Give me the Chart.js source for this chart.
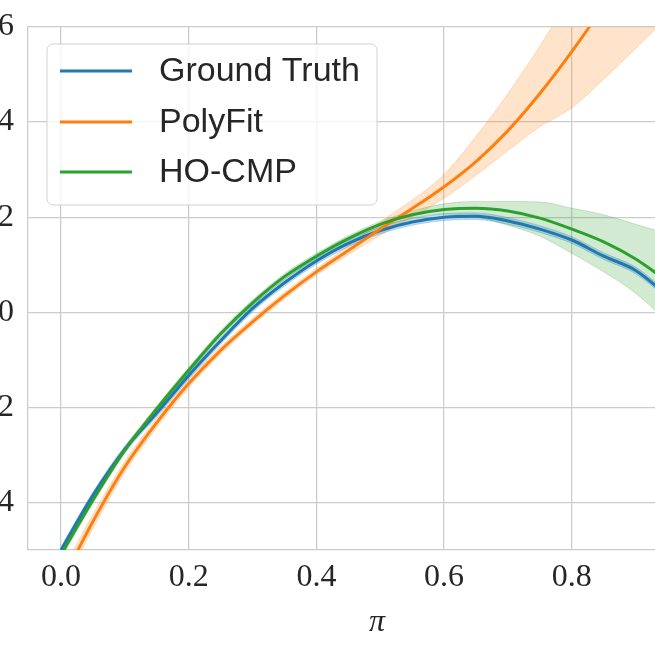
<!DOCTYPE html>
<html>
<head>
<meta charset="utf-8">
<script src="https://cdn.jsdelivr.net/npm/chart.js@4/dist/chart.umd.min.js"></script>
<style>
  html, body { margin: 0; padding: 0; background: #fff; }
  #wrap { position: relative; width: 655px; height: 655px; overflow: hidden; }
  #chart { position: absolute; left: -40px; top: 0; }
</style>
</head>
<body>
<div id="wrap"><canvas id="chart" width="800" height="655"></canvas></div>
<script>
const xs = [0, 0.05, 0.1, 0.15, 0.2, 0.25, 0.3, 0.35, 0.4, 0.45, 0.5, 0.55, 0.6, 0.65, 0.7, 0.75, 0.8, 0.85, 0.9, 0.95];

const gtMean = [-0.50, -0.385, -0.288, -0.212, -0.133, -0.060, 0.008, 0.062, 0.108, 0.145, 0.172, 0.190, 0.200, 0.202, 0.192, 0.175, 0.152, 0.118, 0.088, 0.035];
const gtLow  = [-0.507, -0.392, -0.295, -0.219, -0.140, -0.067, 0.001, 0.055, 0.101, 0.138, 0.165, 0.183, 0.193, 0.195, 0.185, 0.168, 0.145, 0.111, 0.081, 0.028];
const gtHigh = [-0.493, -0.378, -0.281, -0.205, -0.126, -0.053, 0.015, 0.069, 0.115, 0.152, 0.179, 0.197, 0.207, 0.209, 0.199, 0.182, 0.159, 0.125, 0.095, 0.042];

const polyMean = [-0.57, -0.44, -0.325, -0.232, -0.150, -0.080, -0.020, 0.035, 0.085, 0.130, 0.175, 0.218, 0.264, 0.317, 0.382, 0.460, 0.548, 0.645, 0.750, 0.865];
const polyLow  = [-0.59, -0.455, -0.337, -0.242, -0.159, -0.088, -0.027, 0.028, 0.078, 0.121, 0.162, 0.200, 0.240, 0.288, 0.340, 0.390, 0.430, 0.490, 0.555, 0.620];
const polyHigh = [-0.55, -0.425, -0.313, -0.222, -0.141, -0.072, -0.013, 0.042, 0.092, 0.140, 0.190, 0.236, 0.290, 0.370, 0.460, 0.560, 0.670, 0.790, 0.910, 1.030];

const hoMean = [-0.51, -0.395, -0.290, -0.203, -0.122, -0.045, 0.020, 0.075, 0.118, 0.155, 0.185, 0.205, 0.216, 0.219, 0.213, 0.198, 0.175, 0.148, 0.112, 0.065];
const hoLow  = [-0.518, -0.402, -0.296, -0.209, -0.128, -0.051, 0.014, 0.069, 0.112, 0.149, 0.179, 0.198, 0.207, 0.200, 0.183, 0.160, 0.124, 0.085, 0.040, -0.020];
const hoHigh = [-0.502, -0.388, -0.284, -0.197, -0.116, -0.039, 0.026, 0.081, 0.124, 0.161, 0.191, 0.213, 0.228, 0.233, 0.233, 0.232, 0.219, 0.205, 0.185, 0.165];

const labels = ["Ground Truth", "PolyFit", "HO-CMP"];
const colors = ["#1f77b4", "#ff7f0e", "#2ca02c"];
const bandColors = ["rgba(31,119,180,0.25)", "rgba(255,127,14,0.22)", "rgba(44,160,44,0.22)"];

const xTicks = [0, 0.2, 0.4, 0.6, 0.8, 1.0];
const yTicks = [-0.4, -0.2, 0, 0.2, 0.4, 0.6];

function pts(arr) {
  return xs.map((x, i) => ({ x: x, y: arr[i] }));
}

const means = [gtMean, polyMean, hoMean];
const lows = [gtLow, polyLow, hoLow];
const highs = [gtHigh, polyHigh, hoHigh];

let datasets = [];
for (let k = 0; k < 3; k++) {
  // band: lower edge then upper edge filled down to it
  datasets.push({
    data: pts(lows[k]), borderColor: bandColors[k], borderWidth: 1,
    pointRadius: 0, fill: false, order: 10 + k, cubicInterpolationMode: "monotone"
  });
  datasets.push({
    data: pts(highs[k]), borderColor: bandColors[k], borderWidth: 1,
    backgroundColor: bandColors[k], pointRadius: 0, fill: "-1", order: 10 + k,
    cubicInterpolationMode: "monotone"
  });
}
for (let k = 0; k < 3; k++) {
  datasets.push({
    label: labels[k], data: pts(means[k]), borderColor: colors[k], borderWidth: 3,
    pointRadius: 0, fill: false, order: 5 - k, cubicInterpolationMode: "monotone"
  });
}

// legend drawn inside the plot, like matplotlib's upper-left box
const boxLegend = {
  id: "boxLegend",
  afterDraw(chart) {
    const ctx = chart.ctx;
    const ox = 40;
    ctx.save();
    ctx.beginPath();
    ctx.roundRect(47 + ox, 44, 330, 161, 6);
    ctx.fillStyle = "rgba(255,255,255,0.8)";
    ctx.fill();
    ctx.strokeStyle = "#d0d0d0";
    ctx.lineWidth = 1;
    ctx.stroke();
    const rows = [71, 122, 172];
    ctx.font = "34px 'Liberation Sans', Arial, sans-serif";
    ctx.textBaseline = "middle";
    for (let k = 0; k < 3; k++) {
      ctx.beginPath();
      ctx.moveTo(60 + ox, rows[k]);
      ctx.lineTo(132 + ox, rows[k]);
      ctx.strokeStyle = colors[k];
      ctx.lineWidth = 3;
      ctx.stroke();
      ctx.fillStyle = "#262626";
      ctx.fillText(labels[k], 159 + ox, rows[k] + 1);
    }
    ctx.restore();
  }
};

new Chart(document.getElementById("chart"), {
  type: "line",
  data: { datasets: datasets },
  plugins: [boxLegend],
  options: {
    responsive: false,
    animation: false,
    layout: { padding: { top: 27, right: 34, left: 0, bottom: 0 } },
    plugins: { legend: { display: false }, tooltip: { enabled: false } },
    scales: {
      x: {
        type: "linear",
        min: -0.0517,
        max: 1.0415,
        afterBuildTicks: (s) => { s.ticks = xTicks.map(v => ({ value: v })); },
        afterFit: (s) => { s.height = 105; s.paddingLeft = 0; s.paddingRight = 0; },
        ticks: {
          color: "#262626",
          padding: 8,
          font: { family: "'Liberation Serif', 'DejaVu Serif', serif", size: 32 },
          callback: (v) => v.toFixed(1)
        },
        grid: { color: "#cccccc", lineWidth: 1.25, drawTicks: false },
        border: { color: "#cccccc", width: 1.25 },
        title: {
          display: true, text: "π", color: "#262626",
          padding: { top: 0, bottom: 13 },
          font: { family: "'Liberation Serif', 'DejaVu Serif', serif", size: 32, style: "italic" }
        }
      },
      y: {
        type: "linear",
        min: -0.5,
        max: 0.6,
        afterBuildTicks: (s) => { s.ticks = yTicks.map(v => ({ value: v })); },
        afterFit: (s) => { s.width = 68; s.paddingTop = 0; s.paddingBottom = 0; },
        ticks: {
          color: "#262626",
          padding: 14,
          font: { family: "'Liberation Serif', 'DejaVu Serif', serif", size: 32 },
          callback: (v) => (v < 0 ? "\u2212" : "") + Math.abs(v).toFixed(1)
        },
        grid: { color: "#cccccc", lineWidth: 1.25, drawTicks: false },
        border: { color: "#cccccc", width: 1.25 }
      }
    }
  }
});
</script>
</body>
</html>
